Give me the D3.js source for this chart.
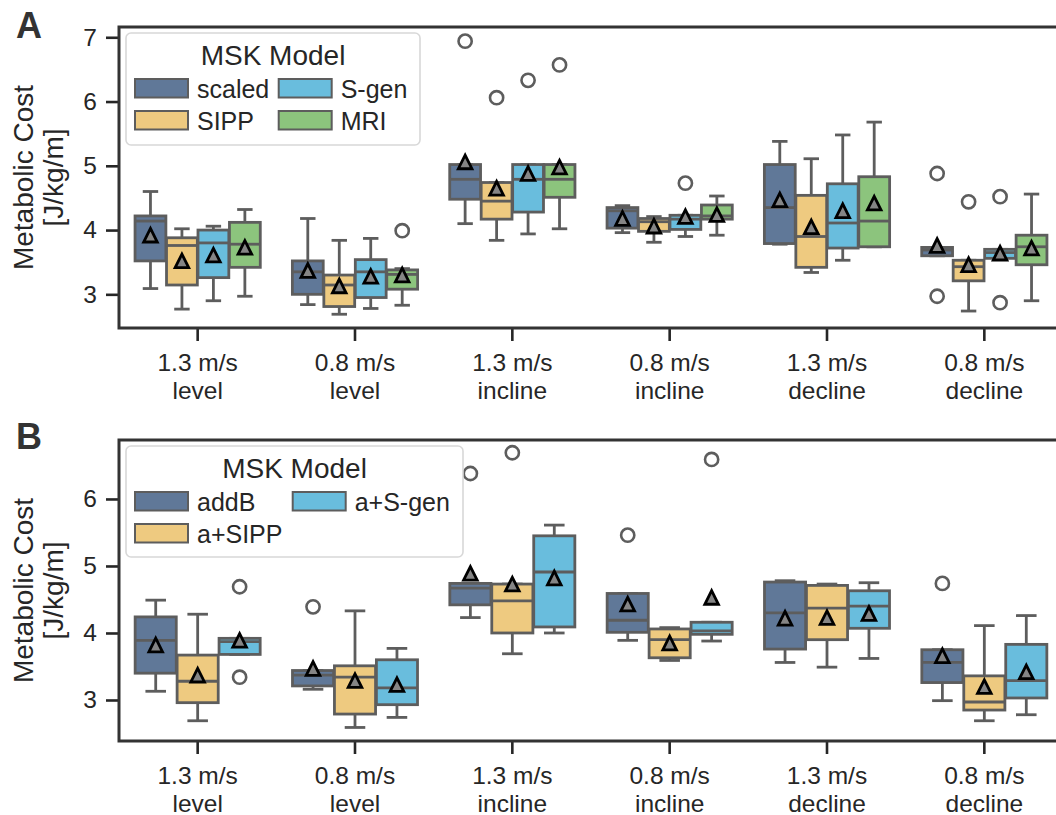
<!DOCTYPE html>
<html>
<head>
<meta charset="utf-8">
<script src="https://cdn.jsdelivr.net/npm/d3@7"></script>
<style>
  body { margin: 0; background: #fff; }
  svg { display: block; font-family: "Liberation Sans", Arial, sans-serif; }
</style>
</head>
<body>
<script>
// tick labels (two lines each)
const conditions = ["1.3 m/s\nlevel", "0.8 m/s\nlevel", "1.3 m/s\nincline", "0.8 m/s\nincline", "1.3 m/s\ndecline", "0.8 m/s\ndecline"];

// panel A models
const modelsA = ["scaled", "SIPP", "S-gen", "MRI"];
const colorsA = ["#607898", "#eeca80", "#69bddd", "#8cc47d"];
// [lower whisker, q1, median, q3, upper whisker] per condition
const scaledBox = [[3.09, 3.52, 4.14, 4.22, 4.60], [2.84, 3.00, 3.35, 3.52, 4.18], [4.10, 4.48, 4.79, 5.02, 5.02], [3.96, 4.03, 4.30, 4.35, 4.38], [3.78, 3.79, 4.35, 5.02, 5.38], [3.60, 3.60, 3.69, 3.73, 3.73]];
const sippBox   = [[2.77, 3.145, 3.76, 3.88, 4.02], [2.69, 2.81, 3.145, 3.30, 3.84], [3.84, 4.17, 4.45, 4.74, 4.74], [3.81, 3.98, 4.13, 4.18, 4.21], [3.34, 3.42, 3.90, 4.54, 5.11], [2.74, 3.21, 3.43, 3.53, 3.53]];
const sgenBox   = [[2.90, 3.26, 3.80, 4.00, 4.06], [2.78, 2.95, 3.35, 3.54, 3.87], [3.94, 4.28, 4.79, 5.02, 5.02], [3.90, 4.01, 4.17, 4.23, 4.23], [3.53, 3.72, 4.11, 4.72, 5.48], [3.56, 3.56, 3.65, 3.70, 3.70]];
const mriBox    = [[2.97, 3.42, 3.78, 4.12, 4.32], [2.83, 3.08, 3.31, 3.38, 3.40], [4.02, 4.51, 4.79, 5.02, 5.02], [3.92, 4.17, 4.22, 4.39, 4.53], [3.74, 3.74, 4.14, 4.83, 5.68], [2.90, 3.46, 3.74, 3.92, 4.56]];
const scaledMean = [3.92, 3.37, 5.06, 4.18, 4.47, 3.76];
const sippMean   = [3.52, 3.13, 4.65, 4.06, 4.05, 3.46];
const sgenMean   = [3.61, 3.28, 4.88, 4.21, 4.30, 3.64];
const mriMean    = [3.73, 3.30, 4.98, 4.24, 4.42, 3.72];
const scaledOut = [[], [], [6.94], [], [], [4.88, 2.97]];
const sippOut   = [[], [], [6.06], [], [], [4.44]];
const sgenOut   = [[], [], [6.33], [4.73], [], [4.52, 2.87]];
const mriOut    = [[], [3.99], [6.57], [], [], []];

// panel B models
const modelsB = ["addB", "a+SIPP", "a+S-gen"];
const colorsB = ["#607898", "#eeca80", "#69bddd"];
const addbBox  = [[3.13, 3.40, 3.89, 4.24, 4.49], [3.16, 3.21, 3.37, 3.44, 3.44], [4.23, 4.42, 4.67, 4.74, 4.74], [3.89, 4.01, 4.19, 4.59, 4.59], [3.56, 3.76, 4.30, 4.76, 4.78], [2.99, 3.26, 3.56, 3.75, 3.75]];
const asippBox = [[2.69, 2.96, 3.28, 3.67, 4.28], [2.59, 2.79, 3.34, 3.51, 4.33], [3.69, 4.00, 4.48, 4.73, 4.73], [3.59, 3.63, 3.90, 4.06, 4.08], [3.49, 3.90, 4.37, 4.71, 4.73], [2.69, 2.85, 2.97, 3.36, 4.11]];
const asgenBox = [[3.68, 3.68, 3.87, 3.92, 3.92], [2.74, 2.93, 3.18, 3.60, 3.77], [4.00, 4.09, 4.91, 5.45, 5.61], [3.88, 3.98, 4.03, 4.16, 4.16], [3.62, 4.07, 4.40, 4.63, 4.75], [2.78, 3.03, 3.29, 3.83, 4.26]];
const addbMean  = [3.82, 3.47, 4.89, 4.43, 4.22, 3.66];
const asippMean = [3.37, 3.29, 4.73, 3.85, 4.23, 3.20];
const asgenMean = [3.89, 3.23, 4.82, 4.53, 4.29, 3.42];
const addbOut  = [[], [4.39], [6.38], [5.46], [], [4.74]];
const asippOut = [[], [], [6.69], [], [], []];
const asgenOut = [[4.69, 3.34], [], [], [6.59], [], []];

const ticksA = [3, 4, 5, 6, 7];
const ticksB = [3, 4, 5, 6];

const W = 1056, H = 815;
const TXT = "#262626", EDGE = "#5d5d5d";

const svg = d3.select("body").append("svg").attr("width", W).attr("height", H);

function panel(opt) {
  const x = d3.scaleBand().domain(conditions).range([119, 1063]);
  const y = d3.scaleLinear().domain(opt.ydom).range([opt.bottom, opt.top]);
  const inner = x.bandwidth() * 0.8;
  const xh = d3.scaleBand().domain(opt.models).range([0, inner]);
  const bw = xh.bandwidth() * 0.98;
  const g = svg.append("g");

  // y axis
  g.append("g").attr("transform", "translate(119,0)")
    .call(d3.axisLeft(y).tickValues(opt.ticks).tickSize(13).tickPadding(9).tickFormat(d3.format("d")))
    .call(a => a.select(".domain").remove())
    .call(a => a.selectAll("line").attr("stroke", TXT).attr("stroke-width", 2.6))
    .call(a => a.selectAll("text").attr("fill", TXT).style("font-size", "24.5px").attr("font-family", null));

  // x axis
  g.append("g").attr("transform", `translate(0,${opt.bottom})`)
    .call(d3.axisBottom(x).tickSize(13).tickPadding(0).tickFormat(""))
    .call(a => a.select(".domain").remove())
    .call(a => a.selectAll("line").attr("stroke", TXT).attr("stroke-width", 2.6))
    .call(a => a.selectAll(".tick").append("text")
      .attr("fill", TXT).attr("text-anchor", "middle").style("font-size", "24.5px")
      .selectAll("tspan").data(d => d.split("\n")).join("tspan")
      .attr("x", 0).attr("y", (d, i) => 43 + i * 28).text(d => d));

  // boxes
  opt.models.forEach((m, k) => {
    const boxes = opt.boxes[k], means = opt.means[k], outs = opt.outs[k];
    conditions.forEach((c, i) => {
      const cx = x(c) + x.bandwidth() * 0.1 + xh(m) + xh.bandwidth() / 2;
      const [lo, q1, med, q3, hi] = boxes[i];
      const bg = g.append("g");
      bg.append("line").attr("x1", cx).attr("x2", cx).attr("y1", y(lo)).attr("y2", y(q1));
      bg.append("line").attr("x1", cx).attr("x2", cx).attr("y1", y(q3)).attr("y2", y(hi));
      bg.append("line").attr("x1", cx - bw / 4).attr("x2", cx + bw / 4).attr("y1", y(lo)).attr("y2", y(lo));
      bg.append("line").attr("x1", cx - bw / 4).attr("x2", cx + bw / 4).attr("y1", y(hi)).attr("y2", y(hi));
      bg.append("rect").attr("x", cx - bw / 2).attr("width", bw)
        .attr("y", y(q3)).attr("height", Math.max(0.5, y(q1) - y(q3)))
        .attr("fill", opt.colors[k]);
      bg.append("line").attr("x1", cx - bw / 2).attr("x2", cx + bw / 2).attr("y1", y(med)).attr("y2", y(med));
      bg.selectAll("line, rect").attr("stroke", EDGE).attr("stroke-width", 2.8);
      outs[i].forEach(v => {
        bg.append("circle").attr("cx", cx).attr("cy", y(v)).attr("r", 6.6)
          .attr("fill", "none").attr("stroke", EDGE).attr("stroke-width", 2.6);
      });
      const my = y(means[i]), s = 6.8;
      bg.append("path")
        .attr("d", `M${cx},${my - s}L${cx + s},${my + s}L${cx - s},${my + s}Z`)
        .attr("fill", "#858585").attr("stroke", "#000").attr("stroke-width", 2.8)
        .attr("stroke-linejoin", "miter");
    });
  });

  // spines: left, top, bottom (right one lies outside the picture)
  const sp = g.append("g").attr("stroke", "#333").attr("stroke-width", 3).attr("fill", "none");
  sp.append("path").attr("d", `M${W},${opt.top}H119V${opt.bottom}H${W}`);

  // y label
  const yl = g.append("text").attr("transform", `translate(0,${(opt.top + opt.bottom) / 2}) rotate(-90)`)
    .attr("text-anchor", "middle").attr("fill", TXT).style("font-size", "28px");
  yl.append("tspan").attr("x", 0).attr("y", 33).text("Metabolic Cost");
  yl.append("tspan").attr("x", 0).attr("y", 63).text("[J/kg/m]");

  // panel letter
  g.append("text").attr("x", 16).attr("y", opt.letterY).attr("fill", "#333")
    .style("font-size", "36px").style("font-weight", "bold").text(opt.letter);

  // legend
  const L = opt.legend;
  const lg = g.append("g");
  lg.append("rect").attr("x", L.x).attr("y", L.y).attr("width", L.w).attr("height", L.h).attr("rx", 5)
    .attr("fill", "#fff").attr("fill-opacity", 0.85).attr("stroke", "#d8d8d8").attr("stroke-width", 1.6);
  lg.append("text").attr("x", L.x + L.w / 2).attr("y", L.y + 32).attr("text-anchor", "middle")
    .attr("fill", TXT).style("font-size", "28px").text("MSK Model");
  opt.models.forEach((m, k) => {
    const col = Math.floor(k / 2), row = k % 2;
    const px = 135 + col * L.colW, py = L.y + 46 + row * 32;
    lg.append("rect").attr("x", px).attr("y", py).attr("width", 53).attr("height", 18.5)
      .attr("fill", opt.colors[k]).attr("stroke", EDGE).attr("stroke-width", 2);
    lg.append("text").attr("x", px + 62).attr("y", py + 18.5).attr("fill", TXT)
      .style("font-size", "25px").text(m);
  });
}

panel({
  letter: "A", letterY: 37.5, top: 27, bottom: 328, ydom: [2.476, 7.16], ticks: ticksA,
  models: modelsA, colors: colorsA,
  boxes: [scaledBox, sippBox, sgenBox, mriBox],
  means: [scaledMean, sippMean, sgenMean, mriMean],
  outs: [scaledOut, sippOut, sgenOut, mriOut],
  legend: { x: 126, y: 33, w: 294, h: 112, colW: 143.7 }
});

panel({
  letter: "B", letterY: 449, top: 440, bottom: 741, ydom: [2.388, 6.88], ticks: ticksB,
  models: modelsB, colors: colorsB,
  boxes: [addbBox, asippBox, asgenBox],
  means: [addbMean, asippMean, asgenMean],
  outs: [addbOut, asippOut, asgenOut],
  legend: { x: 126, y: 446, w: 337, h: 111, colW: 157.7 }
});
</script>
</body>
</html>
